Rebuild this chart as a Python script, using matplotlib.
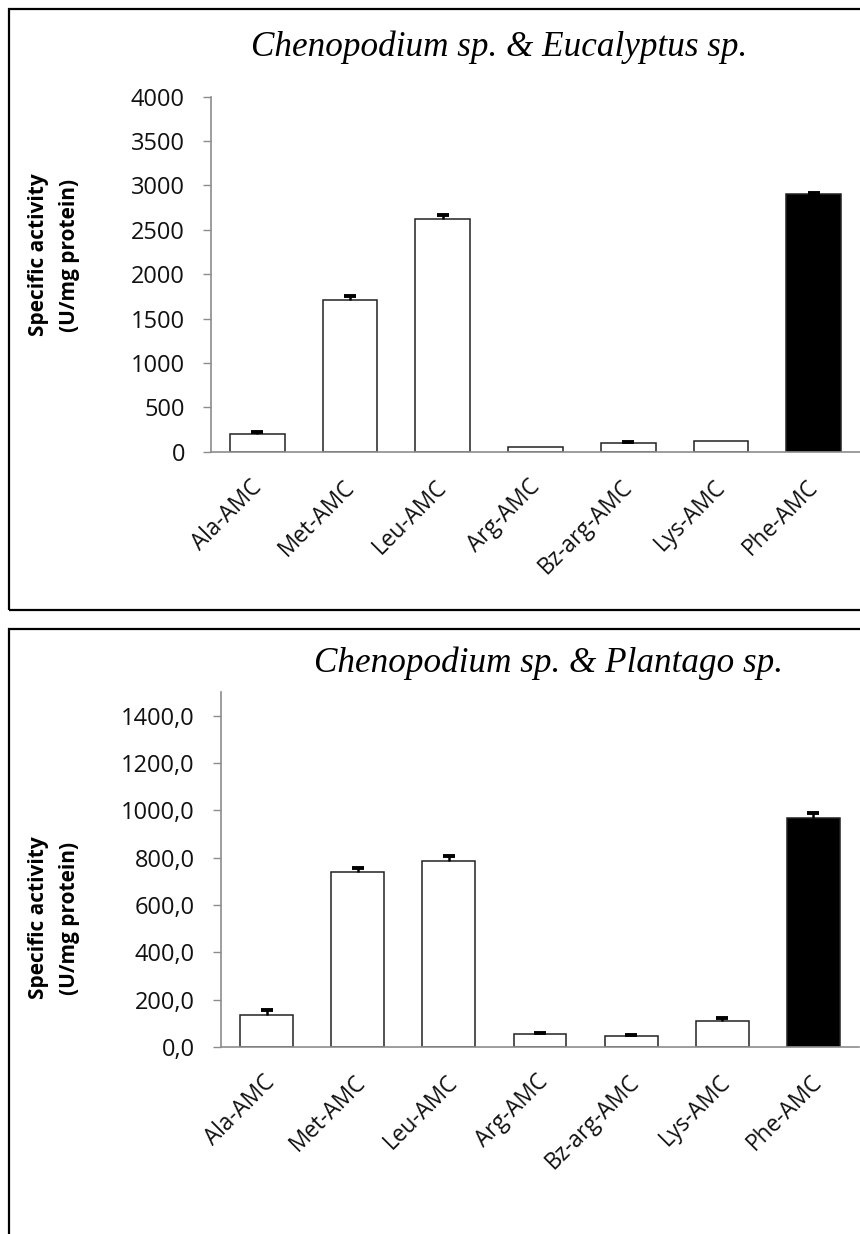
import matplotlib
matplotlib.use("Agg")
import matplotlib.pyplot as plt
from matplotlib.patches import Rectangle
from matplotlib.transforms import ScaledTranslation
import numpy as np

categories = ["Ala-AMC", "Met-AMC", "Leu-AMC", "Arg-AMC", "Bz-arg-AMC", "Lys-AMC", "Phe-AMC"]

top_title = "Chenopodium sp. & Eucalyptus sp."
top_values = [205, 1705, 2620, 53, 98, 124, 2900]
top_errors = [13, 50, 48, 0, 12, 0, 18]
top_ticks = [0, 500, 1000, 1500, 2000, 2500, 3000, 3500, 4000]
top_ticklabels = ["0", "500", "1000", "1500", "2000", "2500", "3000", "3500", "4000"]

bot_title = "Chenopodium sp. & Plantago sp."
bot_values = [135, 741, 784, 53, 46, 109, 967]
bot_errors = [22, 15, 21, 8, 5, 15, 22]
bot_ticks = [0, 200, 400, 600, 800, 1000, 1200, 1400]
bot_ticklabels = ["0,0", "200,0", "400,0", "600,0", "800,0", "1000,0", "1200,0", "1400,0"]

bar_colors = ["white"] * 6 + ["black"]
ylabel = "Specific activity\n(U/mg protein)"

W, H = 860, 1234
DPI = 100
fig = plt.figure(figsize=(W / DPI, H / DPI), dpi=DPI)
fig.patch.set_facecolor("white")

def fx(px):
    return px / W

def fy(py):
    return 1 - py / H

SANS = "Open Sans"
SERIF = "Liberation Serif"
AXIS_GRAY = "#8c8c8c"

# panel borders
for (y0, y1) in [(9, 610), (629, 1260)]:
    fig.patches.append(Rectangle((fx(9), fy(y1)), fx(880) - fx(9), fy(y0) - fy(y1),
                                 transform=fig.transFigure, fill=False,
                                 edgecolor="black", linewidth=1.6, zorder=0))

def panel(left, right, top_px, bot_px, values, errors, ticks, ticklabels, ymax,
          title, title_xy, ylab_xy, barw, xshift):
    ax = fig.add_axes([fx(left), fy(bot_px), fx(right) - fx(left), fy(top_px) - fy(bot_px)])
    x = np.arange(len(categories))
    v = np.array(values, dtype=float)
    e = np.array(errors, dtype=float)
    ax.bar(x, v, width=barw, color=bar_colors, edgecolor="#222222", linewidth=1.1, zorder=2)
    has = e > 0
    ax.errorbar(x[has], v[has], yerr=[np.zeros(has.sum()), e[has]], fmt="none",
                ecolor="black", elinewidth=1.8, capsize=0, zorder=3)
    ax.plot(x[has], (v + e)[has], linestyle="none", marker="_", markersize=9,
            markeredgewidth=2.8, color="black", zorder=4)
    ax.set_xlim(-0.5, len(categories) - 0.5)
    ax.set_ylim(0, ymax)
    ax.set_yticks(ticks)
    ax.set_yticklabels(ticklabels, fontsize=17, family=SANS, color="#111111")
    ax.set_xticks(x)
    ax.set_xticklabels(categories, fontsize=16.3, family=SANS, color="#111111",
                       rotation=45, ha="right", va="center", rotation_mode="anchor")
    ax.tick_params(axis="x", length=0, pad=23)
    ax.tick_params(axis="y", length=5.8, width=1, color=AXIS_GRAY, pad=13, direction="out")
    for lab in ax.get_xticklabels():
        lab.set_transform(lab.get_transform() + ScaledTranslation(xshift / DPI, 0, fig.dpi_scale_trans))
    for s in ["top", "right"]:
        ax.spines[s].set_visible(False)
    for s in ["left", "bottom"]:
        ax.spines[s].set_color(AXIS_GRAY)
        ax.spines[s].set_linewidth(1.2)
    ax.patch.set_alpha(0)
    fig.text(fx(title_xy[0]), fy(title_xy[1]), title, family=SERIF, style="italic",
             fontsize=25.3, ha="center", va="center")
    fig.text(fx(ylab_xy[0]), fy(ylab_xy[1]), ylabel, family=SANS, weight="bold",
             fontsize=15, rotation=90, ha="center", va="center", multialignment="center",
             linespacing=1.6)
    return ax

panel(211, 860, 96.7, 451.7, top_values, top_errors, top_ticks, top_ticklabels, 4000,
      top_title, (499, 47), (54, 255), 0.59, 1)
panel(221, 859, 692, 1047, bot_values, bot_errors, bot_ticks, bot_ticklabels, 1500,
      bot_title, (548, 663), (54, 918), 0.58, 5)

fig.savefig("out.png", dpi=DPI, facecolor="white")
